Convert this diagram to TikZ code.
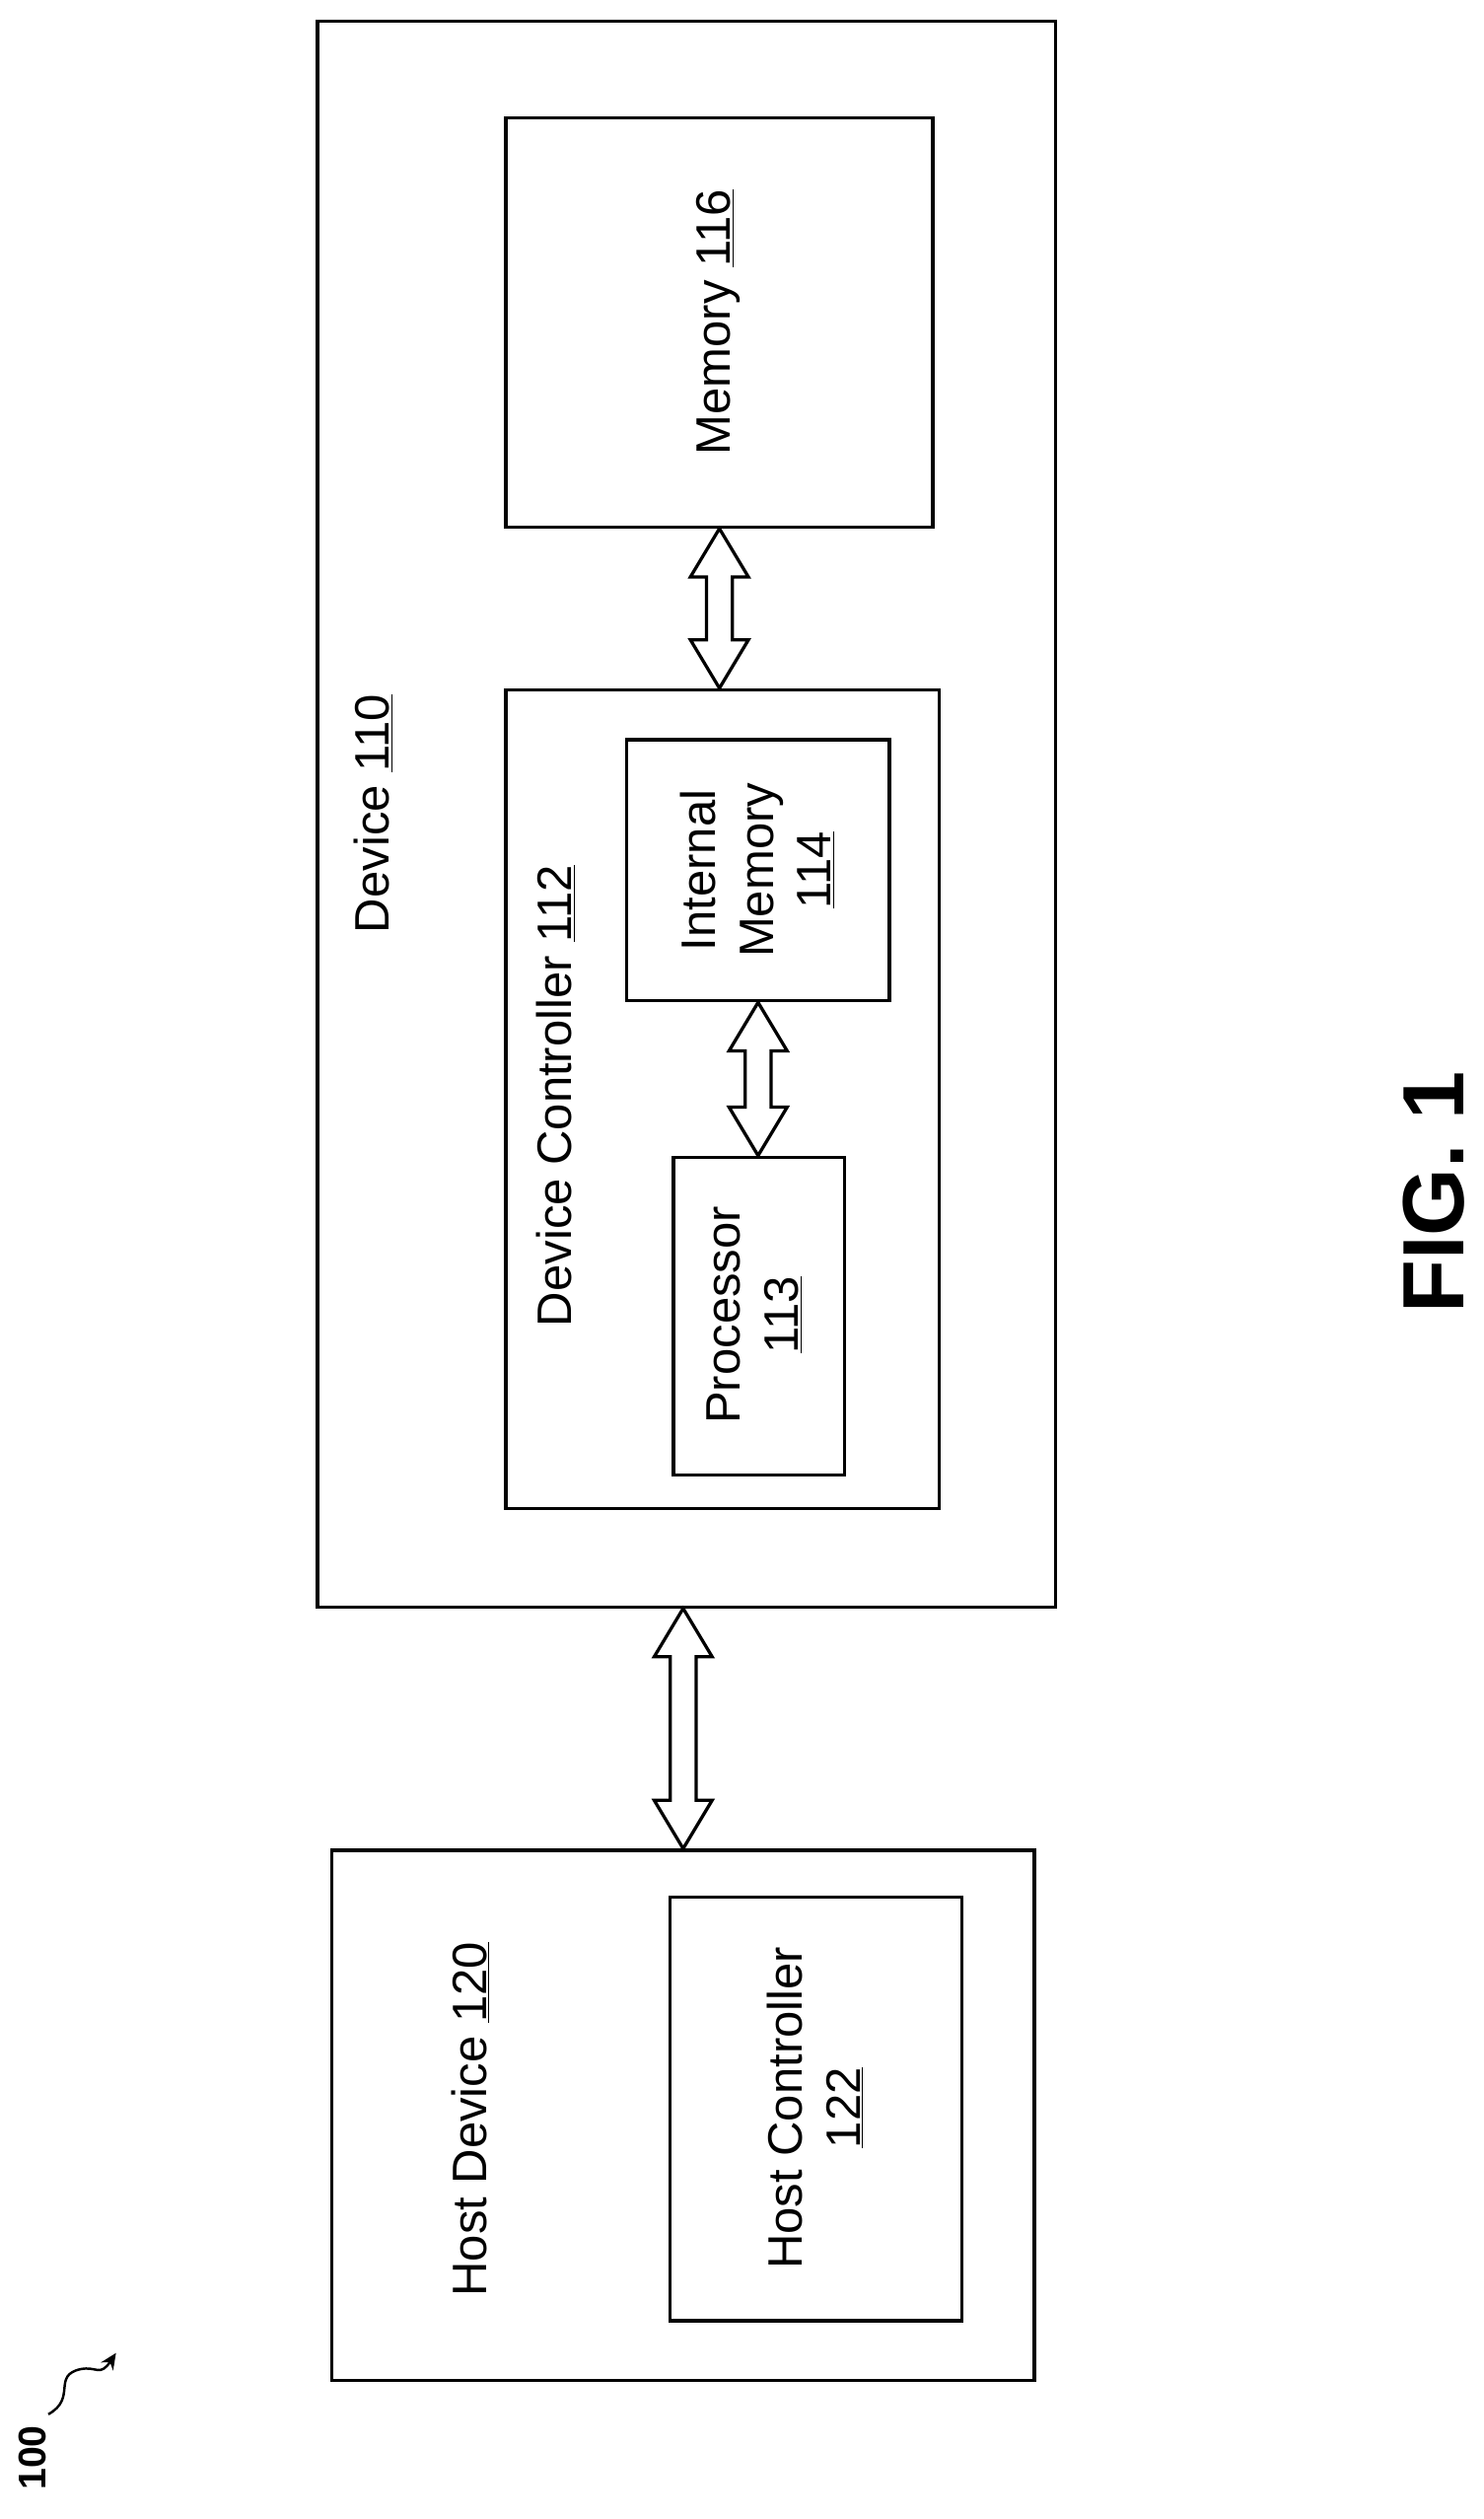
\documentclass[tikz,border=0pt]{standalone}
\usepackage{fontspec}
\setmainfont{Liberation Sans}
\usetikzlibrary{calc,arrows.meta}
\newcommand\fatarr[2]{%
  \draw[line width=2pt,fill=white,line join=miter] let \p1=(#1), \p2=(#2) in
   (\x1,\y1) -- (\x1+18pt,\y1-30pt) -- (\x1+8pt,\y1-30pt) -- (\x1+8pt,\y2+30pt)
   -- (\x1+18pt,\y2+30pt) -- (\x1,\y2) -- (\x1-18pt,\y2+30pt) -- (\x1-8pt,\y2+30pt)
   -- (\x1-8pt,\y1-30pt) -- (\x1-18pt,\y1-30pt) -- cycle;}
\begin{document}
\begin{tikzpicture}[x=1pt,y=-1pt,
  box/.style={draw,line width=2pt},
  lab/.style={rotate=90,font=\fontsize{30}{36}\selectfont,align=center}]
\useasboundingbox (0,0) rectangle (921,1563);
\node[box,minimum width=458,minimum height=984] (dev) at (426,505) {};
\node[box,minimum width=265,minimum height=254] (mem) at (446.5,200) {};
\node[box,minimum width=269,minimum height=508] (ctrl) at (448.5,682) {};
\node[box,minimum width=163,minimum height=162] (im) at (470.5,540) {};
\node[box,minimum width=106,minimum height=197] (proc) at (471,816.5) {};
\node[box,minimum width=436,minimum height=329] (host) at (424,1312.5) {};
\node[box,minimum width=181,minimum height=263] (hc) at (506.5,1308.5) {};
\node[lab] (tdev) at (232,505) {Device \underline{110}};
\node[lab] (tmem) at (446,200) {Memory \underline{116}};
\node[lab] (tctrl) at (345,680) {Device Controller \underline{112}};
\node[lab] (tim) at (470,540) {Internal\\Memory\\\underline{114}};
\node[lab] (tproc) at (468,816) {Processor\\\underline{113}};
\node[lab] (thost) at (292,1315) {Host Device \underline{120}};
\node[lab] (thc) at (506,1308) {Host Controller\\\underline{122}};
\node[rotate=90,font=\fontsize{54}{60}\selectfont\bfseries] (fig) at (890,740) {FIG. 1};
\node[rotate=90,font=\fontsize{24}{28}\selectfont\bfseries] (n100) at (20,1525) {100};
\coordinate (sq) at (30,1498);
\coordinate (sqe) at (72,1460);
\draw[line width=1.5pt,-{Stealth[length=10pt,width=9pt]}] (sq) .. controls (48,1488) and (32,1474) .. (50,1470) .. controls (60,1468) and (62,1475) .. (sqe);
\fatarr{mem.south}{ctrl.north -| mem.south}
\fatarr{im.south}{proc.north -| im.south}
\fatarr{host.north |- dev.south}{host.north}
\end{tikzpicture}
\end{document}
